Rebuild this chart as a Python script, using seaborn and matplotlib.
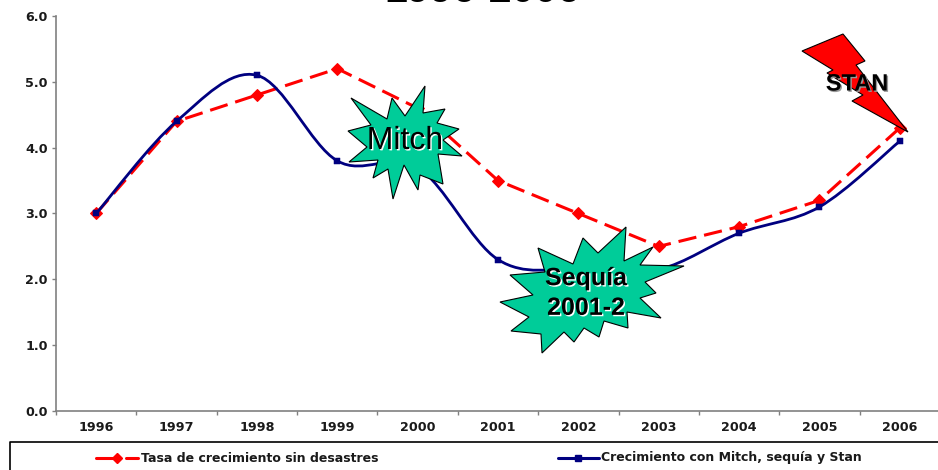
import matplotlib
matplotlib.use("Agg")
import matplotlib.pyplot as plt
import matplotlib.patheffects as pe
from matplotlib.lines import Line2D
from matplotlib.patches import PathPatch, Polygon
from matplotlib.path import Path
from matplotlib.transforms import Affine2D
import numpy as np
import pandas as pd
import seaborn as sns

years = [1996, 1997, 1998, 1999, 2000, 2001, 2002, 2003, 2004, 2005, 2006]
sin_desastres = [3.0, 4.4, 4.8, 5.2, 4.6, 3.5, 3.0, 2.5, 2.8, 3.2, 4.3]
con_desastres = [3.0, 4.4, 5.1, 3.8, 3.7, 2.3, 2.15, 2.15, 2.7, 3.1, 4.1]
title_text = "1996-2006"
label_red = "Tasa de crecimiento sin desastres"
label_blue = "Crecimiento con Mitch, sequía y Stan"

RED = "#ff0000"
NAVY = "#000080"
GREEN = "#00cc99"
DARK = "#1a1a1a"
W, H = 938, 470

# shapes drawn on top of the chart, in pixels of the 938x470 picture
mitch_px = [(425, 86), (423, 113), (445, 109), (437, 123), (459, 129), (443, 140), (462, 156),
            (438, 154), (443, 184), (420, 175), (418, 190), (404, 165), (393, 199), (388, 169),
            (373, 178), (378, 160), (349, 162), (367, 147), (348, 131), (371, 125), (351, 98),
            (387, 119), (392, 98), (405, 116)]
sequia_px = [(626, 227), (624, 261), (653, 247), (640, 265), (684, 266), (645, 282), (656, 293),
             (640, 298), (661, 318), (627, 312), (628, 328), (604, 321), (599, 337), (584, 328),
             (574, 342), (564, 332), (542, 353), (541, 334), (511, 331), (529, 317), (500, 302),
             (533, 295), (510, 275), (545, 272), (538, 248), (573, 264), (583, 238), (598, 253)]
stan_px = [(802, 51), (843, 34), (865, 61), (856, 65), (908, 132), (852, 101), (863, 95),
           (827, 73), (833, 70)]

sns.set_theme(style="white")
plt.rcParams["font.family"] = ["Liberation Sans", "DejaVu Sans"]

fig = plt.figure(figsize=(W / 100, H / 100), dpi=100)
ax = fig.add_axes([56 / W, (H - 411) / H, (940 - 56) / W, (411 - 16) / H])

df = pd.DataFrame({"pos": range(len(years)), "red": sin_desastres, "blue": con_desastres})
sns.lineplot(data=df, x="pos", y="red", ax=ax, color=RED, lw=2.2, marker="D", markersize=6,
             markeredgecolor=RED, dashes=(6, 2.6), zorder=3, legend=False)

# smoothed navy line, excel style bezier through the values
pts = np.column_stack([df["pos"], df["blue"]])
verts = [pts[0]]
codes = [Path.MOVETO]
for i in range(len(pts) - 1):
    p0 = pts[max(i - 1, 0)]
    p1 = pts[i]
    p2 = pts[i + 1]
    p3 = pts[min(i + 2, len(pts) - 1)]
    verts += [p1 + (p2 - p0) / 6, p2 - (p3 - p1) / 6, p2]
    codes += [Path.CURVE4] * 3
ax.add_patch(PathPatch(Path(verts, codes), fc="none", ec=NAVY, lw=2.0, zorder=4))
sns.scatterplot(data=df, x="pos", y="blue", ax=ax, color=NAVY, marker="s", s=20,
                edgecolor=NAVY, zorder=5, legend=False)

tick_font = {"family": "DejaVu Sans", "size": 9.2, "weight": "bold", "color": DARK}
ax.set_xlim(-0.5, 10.5)
ax.set_ylim(0, 6)
ax.set_xlabel("")
ax.set_ylabel("")
ax.set_yticks(np.arange(0, 7))
ax.set_yticklabels([f"{v:.1f}" for v in np.arange(0, 7)], **tick_font)
ax.set_xticks(range(len(years)))
ax.set_xticklabels(years, **tick_font)
ax.set_xticks(np.arange(-0.5, 11, 1), minor=True)
ax.tick_params(axis="x", which="major", length=0, pad=7)
ax.tick_params(axis="x", which="minor", length=3, width=1, color="#808080", bottom=True)
ax.tick_params(axis="y", length=3, width=1, color="#808080", pad=3, left=True)
for side in ["top", "right"]:
    ax.spines[side].set_visible(False)
for side in ["left", "bottom"]:
    ax.spines[side].set_color("#808080")
    ax.spines[side].set_linewidth(1.2)

px = Affine2D().scale(1, -1).translate(0, H)
for shape, color in [(mitch_px, GREEN), (sequia_px, GREEN), (stan_px, RED)]:
    fig.add_artist(Polygon(shape, closed=True, fc=color, ec="black", lw=0.8, transform=px, zorder=6))

shadow = [pe.SimplePatchShadow(offset=(1, -1), shadow_rgbFace="white", alpha=1), pe.Normal()]
fig.text(405 / W, 1 - 141 / H, "Mitch", ha="center", va="center", fontsize=23, color="black",
         zorder=7, path_effects=shadow)
fig.text(586 / W, 1 - 293 / H, "Sequía\n2001-2", ha="center", va="center", fontsize=18,
         fontweight="bold", color="black", linespacing=1.3, zorder=7, path_effects=shadow)
fig.text(857 / W, 1 - 84 / H, "STAN", ha="center", va="center", fontsize=17, fontweight="bold",
         color="black", zorder=7,
         path_effects=[pe.SimplePatchShadow(offset=(1, -1), shadow_rgbFace="#999999", alpha=1), pe.Normal()])

# title sits mostly above the picture edge, only its foot shows
fig.text(482 / W, 1 - 2.5 / H, title_text, ha="center", va="baseline", fontsize=29.5,
         fontweight="bold", color="black")

# legend strip along the bottom
fig.add_artist(Line2D([10 / W, 10 / W, 1], [0, 1 - 442 / H, 1 - 442 / H], color="black", lw=1.2))
leg_y = 1 - 458 / H
fig.add_artist(Line2D([96 / W, 120 / W], [leg_y, leg_y], color=RED, lw=2.2))
fig.add_artist(Line2D([126 / W, 138 / W], [leg_y, leg_y], color=RED, lw=2.2))
fig.add_artist(Line2D([117 / W], [leg_y], color=RED, marker="D", ms=5))
fig.add_artist(Line2D([558 / W, 599 / W], [leg_y, leg_y], color=NAVY, lw=2.2))
fig.add_artist(Line2D([578 / W], [leg_y], color=NAVY, marker="s", ms=4))
legend_font = {"family": "DejaVu Sans", "size": 9.0, "weight": "bold", "color": DARK}
fig.text(141 / W, leg_y, label_red, va="center", **legend_font)
fig.text(601 / W, leg_y, label_blue, va="center", **legend_font)

fig.savefig("out.png", dpi=100)
